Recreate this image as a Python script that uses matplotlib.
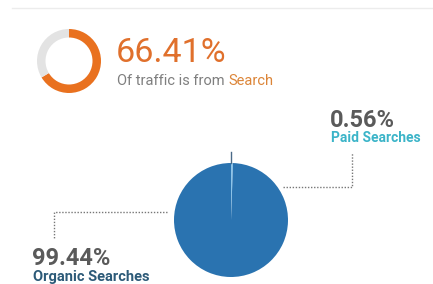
"""
Search traffic summary: donut gauge plus organic / paid pie
"""
import matplotlib
matplotlib.use('Agg')
import matplotlib.pyplot as plt

# data
search_share = 66.41
split_labels = ['Organic Searches', 'Paid Searches']
split_values = [99.44, 0.56]

W, H = 433, 284

ORANGE = '#e9711f'
LIGHT_GRAY = '#e3e3e3'
PIE_BLUE = '#2a73b0'
PAID_BLUE = '#8cc4ea'
TEXT_GRAY = '#5a5a5a'
PAID_COLOR = '#3bb4c8'
ORGANIC_COLOR = '#2c5a78'

plt.rcParams['font.family'] = ['Roboto', 'DejaVu Sans']

fig = plt.figure(figsize=(W / 100, H / 100), dpi=100)
ax = fig.add_axes([0, 0, 1, 1])


def py(y):
    # pixel row (from top) -> data y
    return H - y


# thin divider at the top
ax.plot([12, W], [py(8), py(8)], color='#ececec', linewidth=1)

# donut gauge
ax.pie([search_share, 100 - search_share], colors=[ORANGE, LIGHT_GRAY],
       center=(69, py(61)), radius=32, startangle=90, counterclock=False,
       wedgeprops=dict(width=8.5, edgecolor='none'))

ax.text(116, py(62), f'{search_share:.2f}%', color='#e0702c', fontsize=24.5,
        fontweight='normal', va='baseline', ha='left')
t1 = ax.text(117, py(85), 'Of traffic is from ', color='#7f7f7f', fontsize=10.5,
             va='baseline', ha='left')
ax.annotate('Search', xy=(1, 0), xycoords=t1, color='#dc8538', fontsize=10.5,
            va='bottom', ha='left')

# organic vs paid pie, paid slice starting at 12 o'clock
pie_c = (231, py(220))
pie_r = 57
ax.pie(split_values[::-1], colors=[PAID_BLUE, PIE_BLUE], center=pie_c,
       radius=pie_r, startangle=90, counterclock=False,
       wedgeprops=dict(edgecolor='none'))
ax.plot([pie_c[0], pie_c[0]], [pie_c[1] + pie_r, pie_c[1] + pie_r + 11],
        color='#4a6a88', linewidth=1)

# dotted connectors
dot = dict(color='#777777', linestyle=(0, (1, 1.2)), linewidth=1)
ax.plot([283, 352, 352], [py(187), py(187), py(153)], **dot)
ax.plot([167, 54, 54], [py(212), py(212), py(238)], **dot)

# labels
ax.text(330, py(127), f'{split_values[1]:.2f}%', color=TEXT_GRAY, fontsize=17,
        fontweight='bold', va='baseline', ha='left')
ax.text(331, py(142), split_labels[1], color=PAID_COLOR, fontsize=10,
        fontweight='bold', va='baseline', ha='left')
ax.text(32, py(265), f'{split_values[0]:.2f}%', color=TEXT_GRAY, fontsize=17,
        fontweight='bold', va='baseline', ha='left')
ax.text(33, py(281), split_labels[0], color=ORGANIC_COLOR, fontsize=10.5,
        fontweight='bold', va='baseline', ha='left')

ax.set_xlim(0, W)
ax.set_ylim(0, H)
ax.set_aspect('equal')
ax.axis('off')

fig.savefig('out.png', dpi=100, facecolor='white')
plt.close(fig)
